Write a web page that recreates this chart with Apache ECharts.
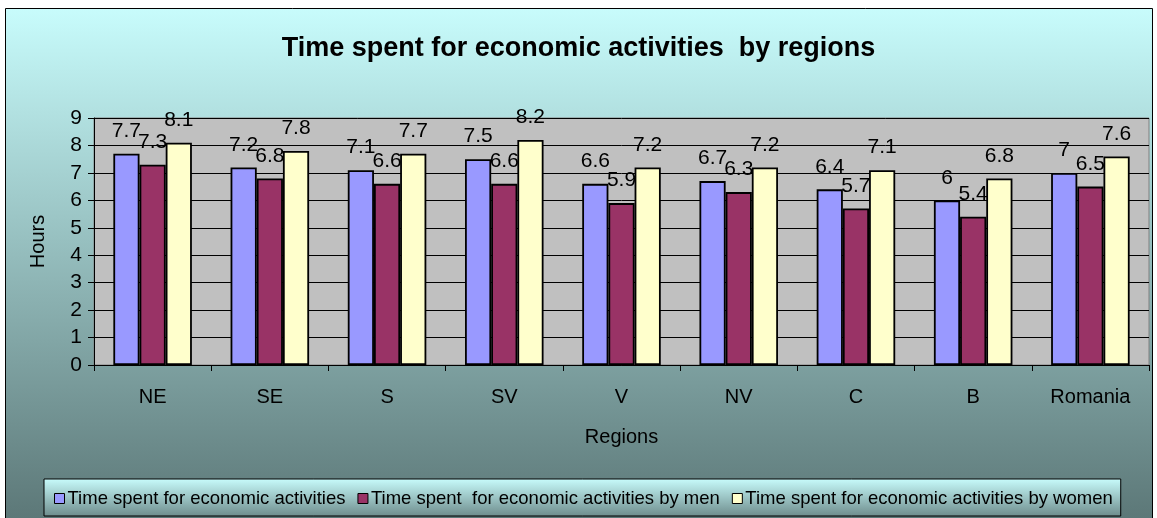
<!DOCTYPE html>
<html><head><meta charset="utf-8">
<script src="https://cdn.jsdelivr.net/npm/echarts@6/dist/echarts.min.js"></script>
<style>html,body{margin:0;padding:0;background:#fff}#c{width:1157px;height:518px}</style>
</head><body><div id="c"></div>
<script>
var categories = ['NE','SE','S','SV','V','NV','C','B','Romania'];
var totalHours = [7.7,7.2,7.1,7.5,6.6,6.7,6.4,6.0,7.0];
var menHours = [7.3,6.8,6.6,6.6,5.9,6.3,5.7,5.4,6.5];
var womenHours = [8.1,7.8,7.7,8.2,7.2,7.2,7.1,6.8,7.6];
var seriesNames = ['Time spent for economic activities','Time spent  for economic activities by men','Time spent for economic activities by women'];
var seriesColors = ['#9999ff','#993366','#ffffcc'];
var yTicks = {min:0,max:9,interval:1};

var FONT = '"Liberation Sans", Arial, sans-serif';
var chart = echarts.init(document.getElementById('c'));
function grad(a,b){return new echarts.graphic.LinearGradient(0,0,0,1,[{offset:0,color:a},{offset:1,color:b}]);}
function mk(i,data){
  return {name:seriesNames[i],type:'bar',data:data,barGap:'0%',barCategoryGap:'33%',
    itemStyle:{color:seriesColors[i],borderColor:'#000',borderWidth:1.8},
    label:{show:true,position:'top',distance:12,color:'#000',fontFamily:FONT,fontSize:21},
    emphasis:{disabled:true},animation:false};
}
chart.setOption({
  animation:false,
  graphic:[{type:'rect',z:-10,shape:{x:5.5,y:8.5,width:1147,height:520},
    style:{fill:grad('#c8fcfc','#5a7575'),stroke:'#000',lineWidth:1}}],
  title:{text:'Time spent for economic activities  by regions',left:'center',top:30,
    textStyle:{fontFamily:FONT,fontSize:27,fontWeight:'bold',color:'#000'}},
  grid:{left:94,right:8,top:118,bottom:153,show:true,backgroundColor:'#c0c0c0',borderColor:'#808080',borderWidth:1},
  legend:{bottom:2,left:44,width:1084,padding:[10,8,8,10],itemGap:12,itemWidth:10,itemHeight:10,icon:'rect',
    backgroundColor:grad('#c8fcfc','#6e8c8c'),borderColor:'#000',borderWidth:1,
    textStyle:{fontFamily:FONT,fontSize:18.5,color:'#000',padding:[0,0,0,-2]},
    itemStyle:{borderColor:'#000',borderWidth:1},
    data:seriesNames},
  xAxis:{type:'category',data:categories,name:'Regions',nameLocation:'middle',nameGap:62,
    nameTextStyle:{fontFamily:FONT,fontSize:20,color:'#000'},
    axisLine:{lineStyle:{color:'#000'}},axisTick:{show:true,length:6,lineStyle:{color:'#000'}},
    axisLabel:{margin:22,fontFamily:FONT,fontSize:20,color:'#000'}},
  yAxis:{type:'value',min:yTicks.min,max:yTicks.max,interval:yTicks.interval,name:'Hours',nameLocation:'middle',nameGap:46,
    nameTextStyle:{fontFamily:FONT,fontSize:20,color:'#000'},
    axisLine:{show:true,lineStyle:{color:'#000'}},axisTick:{show:true,length:6,lineStyle:{color:'#000'}},
    axisLabel:{margin:12,fontFamily:FONT,fontSize:21,color:'#000'},
    splitLine:{lineStyle:{color:'#000',width:1}}},
  series:[mk(0,totalHours),mk(1,menHours),mk(2,womenHours)]
});
</script></body></html>
